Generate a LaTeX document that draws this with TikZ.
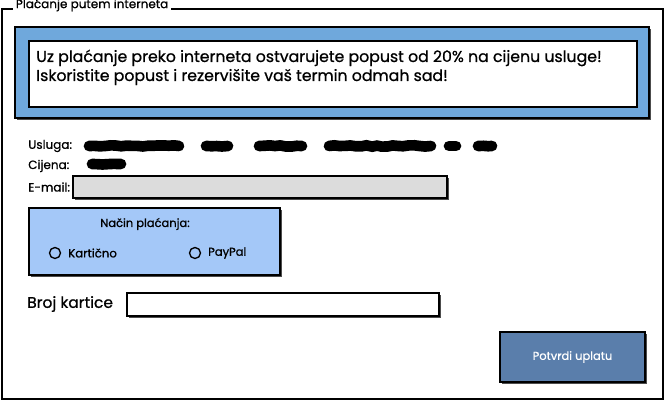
\documentclass[tikz,border=0pt]{standalone}
\usepackage{fontspec}
\setmainfont{Poppins}[FakeBold=0.8]
\usetikzlibrary{calc}
\usetikzlibrary{decorations.pathmorphing}

\definecolor{bannerblue}{HTML}{6FA8DC}
\definecolor{payblue}{HTML}{A4C8F8}
\definecolor{btnblue}{HTML}{5A7EAB}
\definecolor{fieldgray}{HTML}{DCDCDC}

\begin{document}
\begin{tikzpicture}[x=0.75pt,y=-0.75pt]
\useasboundingbox (0,0) rectangle (665,402);
\pgfmathsetseed{7}

%frame
\coordinate (k) at (2,9);
\coordinate (n) at (663,9);
\coordinate (m) at (663,399);
\coordinate (l) at (2,399);
%banner
\coordinate (ba) at (15,27);
\coordinate (bb) at (649,118);
\coordinate (wa) at (29,41);
\coordinate (wb) at (637,107);
%fields
\coordinate (ea) at (73,176);
\coordinate (eb) at (447,198);
\coordinate (pa) at (29,208);
\coordinate (pb) at (280,275);
\coordinate (ka) at (127,293);
\coordinate (kb) at (439,316);
\coordinate (ua) at (500,332);
\coordinate (ub) at (645,382);
%radio buttons
\coordinate (r1) at (55,253);
\coordinate (r2) at (195,253);

\newcommand{\shbox}[3]{
    \fill[black!70] ($(#1)+(2,2)$) rectangle ($(#2)+(2,2)$);
    \draw[black, line width=1.5pt, fill=#3] (#1) rectangle (#2);
}

\newcommand{\redact}[3]{
    \draw[black, line width=8pt, line cap=round,
      decorate, decoration={random steps, segment length=4pt, amplitude=0.5pt}]
      (#1,#3)--(#2,#3);
}

\newcommand{\drawframe}{
    \draw[black, line width=1.5pt] (k)--(n)--(m)--(l)--cycle;
    \node[anchor=west, fill=white, inner sep=2pt, font=\fontsize{9}{10}\selectfont] (title) at (13,5) {Plaćanje putem interneta};
}

\newcommand{\drawbanner}{
    \shbox{ba}{bb}{bannerblue}
    \draw[black, line width=1.5pt, fill=white] (wa) rectangle (wb);
    \node[anchor=base west, inner sep=0pt, font=\fontsize{11.8}{14}\selectfont] (promoa) at (36,62)
      {Uz plaćanje preko interneta ostvarujete popust od 20\% na cijenu usluge!};
    \node[anchor=base west, inner sep=0pt, font=\fontsize{11.8}{14}\selectfont] (promob) at (36,81)
      {Iskoristite popust i rezervišite vaš termin odmah sad!};
}

\newcommand{\drawdata}{
    \node[anchor=west, inner sep=0pt, font=\fontsize{9}{10}\selectfont] (usluga) at (28,146) {Usluga:};
    \node[anchor=west, inner sep=0pt, font=\fontsize{9}{10}\selectfont] (cijena) at (28,166) {Cijena:};
    \node[anchor=west, inner sep=0pt, font=\fontsize{9}{10}\selectfont] (email) at (28,187) {E-mail:};
    \redact{89}{179}{146}
    \redact{206}{228}{146}
    \redact{259}{302}{146}
    \redact{329}{431}{146}
    \redact{449}{456}{146}
    \redact{478}{492}{146}
    \redact{92}{121}{164}
    \shbox{ea}{eb}{fieldgray}
}

\newcommand{\drawpayment}{
    \shbox{pa}{pb}{payblue}
    \node[font=\fontsize{8.6}{10}\selectfont] (nacin) at (145,224) {Način plaćanja:};
    \draw[black, line width=1pt] (r1) circle[radius=5.5];
    \draw[black, line width=1pt] (r2) circle[radius=5.5];
    \node[anchor=west, inner sep=0pt, font=\fontsize{8.8}{10}\selectfont] (kart) at ($(r1)+(13,0)$) {Kartično};
    \node[anchor=west, inner sep=0pt, font=\fontsize{8.6}{10}\selectfont] (paypal) at ($(r2)+(13,0)$) {PayPal};
}

\newcommand{\drawcard}{
    \node[anchor=west, inner sep=0pt, font=\fontsize{11.6}{13}\selectfont] (broj) at (27,304) {Broj kartice};
    \shbox{ka}{kb}{white}
}

\newcommand{\drawbutton}{
    \shbox{ua}{ub}{btnblue}
    \node[text=white, font=\fontsize{8.6}{10}\selectfont] (potvrdi) at ($(ua)!0.5!(ub)$) {Potvrdi uplatu};
}

    \drawframe
    \drawbanner
    \drawdata
    \drawpayment
    \drawcard
    \drawbutton
\end{tikzpicture}
\end{document}
